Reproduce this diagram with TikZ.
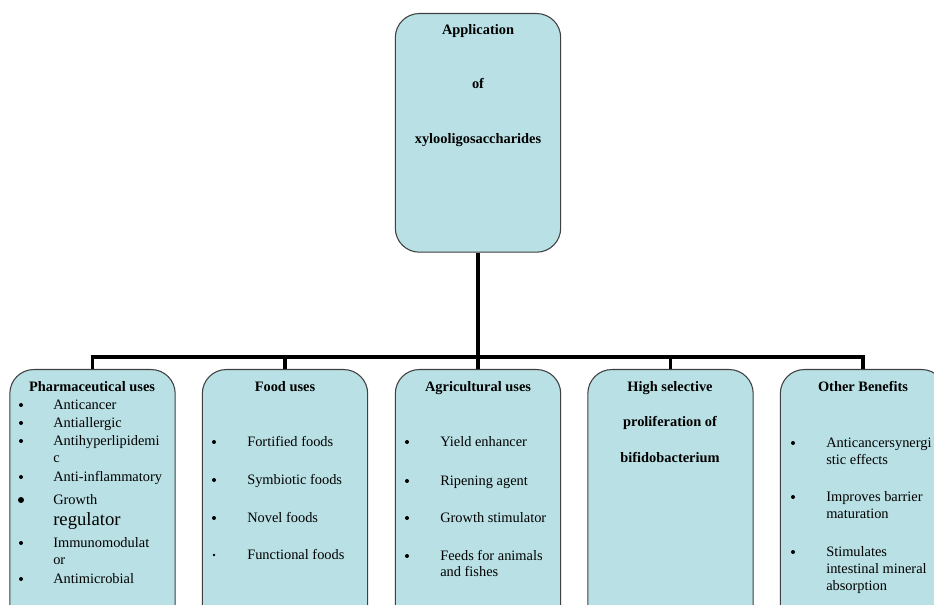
\documentclass[tikz,border=0pt]{standalone}
\usepackage{fontspec}
\setmainfont{Liberation Serif}
\definecolor{boxblue}{RGB}{185,224,228}
\begin{document}
\begin{tikzpicture}[x=0.75pt,y=-0.75pt,%
% common options for the boxes:
box/.style = {draw=black!75, fill=boxblue, rounded corners=18pt, line width=0.8pt,
            minimum width=124pt, anchor=north, inner sep=0},
% common options for the headings:
head/.style = {font=\fontsize{10.8}{13}\selectfont\bfseries, anchor=mid, inner sep=0, yshift=-1pt},
% common options for the list entries:
entry/.style = {font=\fontsize{10.8}{13}\selectfont, anchor=mid west, inner sep=0, yshift=-1pt},
dot/.style = {circle, fill=black, inner sep=0, minimum size=3pt},
link/.style = {line width=2.4pt}]
\useasboundingbox (0,0) rectangle (934,605);
\clip (0,0) rectangle (934,605);
\node[box,minimum height=179pt] (xos) at (478,13) {};
\node[box,minimum height=195pt] (pharma) at (92.5,369) {};
\node[box,minimum height=195pt] (food) at (285,369) {};
\node[box,minimum height=195pt] (agri) at (478,369) {};
\node[box,minimum height=195pt] (bifido) at (670.5,369) {};
\node[box,minimum height=195pt] (other) at (863,369) {};
\coordinate (hub) at (478,357);
\draw[link] (xos.south) to (hub);
\draw[link] (pharma.north) |- (hub) -| (other.north);
\draw[link] (food.north) to (food.north |- hub);
\draw[link] (agri.north) to (agri.north |- hub);
\draw[link] (bifido.north) to (bifido.north |- hub);
% top box
\node[head] (xosA) at (478,30) {Application};
\node[head] (xosB) at (478,84) {of};
\node[head] (xosC) at (478,139) {xylooligosaccharides};
% pharmaceutical uses
\node[head] (pharmaT) at (92,387) {Pharmaceutical uses};
\node[dot] (pharmaD1) at (21,405) {};
\node[dot] (pharmaD2) at (21,423) {};
\node[dot] (pharmaD3) at (21,441) {};
\node[dot] (pharmaD4) at (21,477) {};
\node[dot,minimum size=4.5pt] (pharmaD5) at (21,500) {};
\node[dot] (pharmaD6) at (21,543) {};
\node[dot] (pharmaD7) at (21,579) {};
\node[entry] (pharma1) at (53,405) {Anticancer};
\node[entry] (pharma2) at (53,423) {Antiallergic};
\node[entry] (pharma3) at (53,441) {Antihyperlipidemi};
\node[entry] (pharma3b) at (53,458) {c};
\node[entry] (pharma4) at (53,477) {Anti-inflammatory};
\node[entry] (pharma5) at (53,500) {Growth};
\node[entry,font=\fontsize{14}{16}\selectfont] (pharma5b) at (53,521) {regulator};
\node[entry] (pharma6) at (53,543) {Immunomodulat};
\node[entry] (pharma6b) at (53,560) {or};
\node[entry] (pharma7) at (53,579) {Antimicrobial};
% food uses
\node[head] (foodT) at (285,387) {Food uses};
\node[dot] (foodD1) at (214,442) {};
\node[dot] (foodD2) at (214,480) {};
\node[dot] (foodD3) at (214,518) {};
\node[dot,minimum size=2pt] (foodD4) at (214,555) {};
\node[entry] (food1) at (247,442) {Fortified foods};
\node[entry] (food2) at (247,480) {Symbiotic foods};
\node[entry] (food3) at (247,518) {Novel foods};
\node[entry] (food4) at (247,555) {Functional foods};
% agricultural uses
\node[head] (agriT) at (478,387) {Agricultural uses};
\node[dot] (agriD1) at (407,442) {};
\node[dot] (agriD2) at (407,481) {};
\node[dot] (agriD3) at (407,518) {};
\node[dot] (agriD4) at (407,556) {};
\node[entry] (agri1) at (440,442) {Yield enhancer};
\node[entry] (agri2) at (440,481) {Ripening agent};
\node[entry] (agri3) at (440,518) {Growth stimulator};
\node[entry] (agri4) at (440,556) {Feeds for animals};
\node[entry] (agri4b) at (440,572) {and fishes};
% bifidobacterium
\node[head] (bifidoA) at (670,387) {High selective};
\node[head] (bifidoB) at (670,422) {proliferation of};
\node[head] (bifidoC) at (670,458) {bifidobacterium};
% other benefits
\node[head] (otherT) at (863,387) {Other Benefits};
\node[dot] (otherD1) at (793,443) {};
\node[dot] (otherD2) at (793,497) {};
\node[dot] (otherD3) at (793,552) {};
\node[entry] (other1) at (826,443) {Anticancersynergi};
\node[entry] (other1b) at (826,460) {stic effects};
\node[entry] (other2) at (826,497) {Improves barrier};
\node[entry] (other2b) at (826,514) {maturation};
\node[entry] (other3) at (826,552) {Stimulates};
\node[entry] (other3b) at (826,569) {intestinal mineral};
\node[entry] (other3c) at (826,586) {absorption};
\end{tikzpicture}
\end{document}
